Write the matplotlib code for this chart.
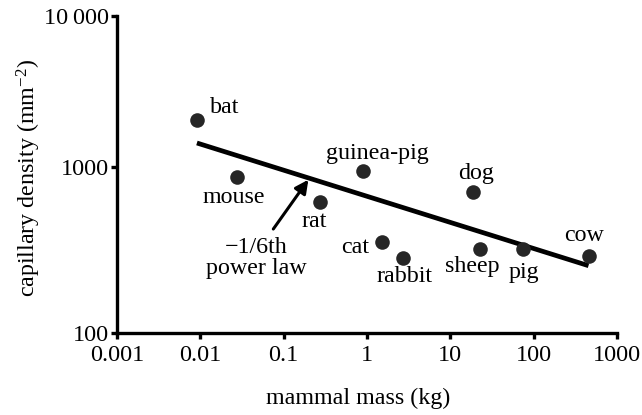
import numpy as np
import matplotlib
matplotlib.use("Agg")
import matplotlib.pyplot as plt

# ---------------- data ----------------
animals = ["bat", "mouse", "rat", "guinea-pig", "dog", "cat", "rabbit", "sheep", "pig", "cow"]
mass_kg = [0.0091, 0.0275, 0.273, 0.906, 18.9, 1.50, 2.74, 23.0, 75.5, 455.0]
cap_density = [2056, 871, 610, 937, 707, 355, 282, 322, 321, 291]

# -1/6th power-law fit line (end points)
fit_mass = [0.0091, 455.0]
fit_density = [1439, 254]

x_ticks = [0.001, 0.01, 0.1, 1, 10, 100, 1000]
x_ticklabels = ["0.001", "0.01", "0.1", "1", "10", "100", "1000"]
y_ticks = [100, 1000, 10000]
y_ticklabels = ["100", "1000", "10\u2009000"]

# label offsets (points) relative to each dot
label_offsets = {
    "bat": (20, 9), "mouse": (-2, -15), "rat": (-4, -14), "guinea-pig": (10, 13),
    "dog": (2, 13), "cat": (-19, -4), "rabbit": (1, -13), "sheep": (-6, -13),
    "pig": (0, -17), "cow": (-3, 15),
}

# ---------------- style ----------------
plt.rcParams["font.family"] = ["Liberation Serif", "DejaVu Serif"]
plt.rcParams["mathtext.fontset"] = "custom"
plt.rcParams["mathtext.rm"] = "Liberation Serif"
plt.rcParams["mathtext.it"] = "Liberation Serif:italic"

fig = plt.figure(figsize=(6.42, 4.15), dpi=100)
ax = fig.add_axes([117 / 642, 1 - 333 / 415, 500 / 642, (333 - 16.5) / 415])

# y scale: log, upper decade slightly compressed as in the reference
K = 150.0 / 166.0


def fwd(y):
    L = np.log10(np.clip(np.asarray(y, dtype=float), 1e-300, None))
    return np.where(L <= 3, L, 3 + (L - 3) * K)


def inv(t):
    t = np.asarray(t, dtype=float)
    return np.where(t <= 3, 10 ** t, 10 ** (3 + (t - 3) / K))


ax.set_xscale("log")
ax.set_yscale("function", functions=(fwd, inv))
ax.set_xlim(0.001, 1000)
ax.set_ylim(100, 10000)

ax.plot(fit_mass, fit_density, color="black", lw=3.4, solid_capstyle="butt", zorder=2)
ax.scatter(mass_kg, cap_density, s=110, color="#262626", zorder=3, linewidths=0)

for name, m, d in zip(animals, mass_kg, cap_density):
    dx, dy = label_offsets[name]
    ax.annotate(name, (m, d), xytext=(dx, dy), textcoords="offset points",
                ha="center", va="center", fontsize=17.3)

# arrow pointing at the fit line, with its label below
ax.annotate("", xy=(0.198, 836), xytext=(0.0751, 422),
            arrowprops=dict(arrowstyle="-|>", color="black", lw=2.2,
                            mutation_scale=20, shrinkA=0, shrinkB=0))
ax.text(0.0467, 283, "\u22121/6th\npower law", ha="center", va="center",
        fontsize=17.3, linespacing=1.0)

ax.set_xticks(x_ticks)
ax.set_xticklabels(x_ticklabels)
ax.set_yticks(y_ticks)
ax.set_yticklabels(y_ticklabels)
ax.xaxis.set_minor_locator(matplotlib.ticker.NullLocator())
ax.yaxis.set_minor_locator(matplotlib.ticker.NullLocator())

for s in ["top", "right"]:
    ax.spines[s].set_visible(False)
for s in ["left", "bottom"]:
    ax.spines[s].set_linewidth(2.4)
ax.tick_params(axis="both", direction="out", length=4.5, width=2.4,
               labelsize=17.5)
ax.tick_params(axis="x", pad=4)
ax.tick_params(axis="y", pad=1)

ax.set_xlabel("mammal mass (kg)", fontsize=17.3)
ax.xaxis.set_label_coords((358 - 117) / 500, (333 - 388) / 316.5)
ax.set_ylabel("capillary density (mm$^{\u22122}$)", fontsize=17.3)
ax.yaxis.set_label_coords((43 - 117) / 500, 0.49)

fig.savefig("out.png", dpi=100)
